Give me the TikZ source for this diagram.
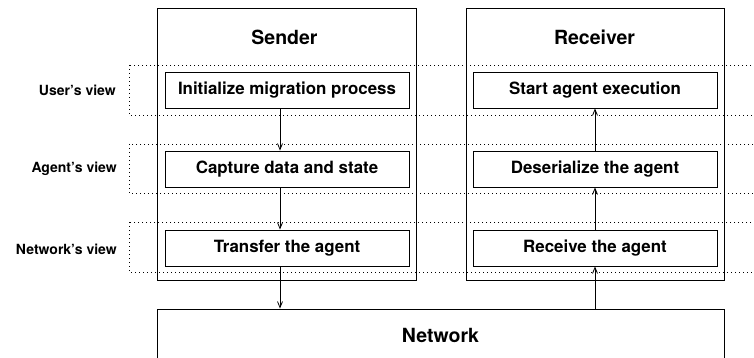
\documentclass[tikz,border=0pt]{standalone}
\usepackage{fontspec}
\setmainfont{TeX Gyre Heros}
\usetikzlibrary{arrows.meta}
\begin{document}
\begin{tikzpicture}[x=1pt,y=-1pt,
  outer/.style={draw=black,line width=0.9pt,rectangle,inner sep=0pt},
  inner/.style={draw=black,line width=0.9pt,fill=white,rectangle,inner sep=0pt,minimum width=244pt,minimum height=36pt,font=\fontsize{16.9}{18}\selectfont\bfseries},
  title/.style={font=\fontsize{19.5}{22}\selectfont\bfseries},
  viewlabel/.style={anchor=east,inner sep=0pt,font=\fontsize{14}{16}\selectfont\bfseries},
  band/.style={line width=0.7pt,dash pattern=on 0.8pt off 3.2pt},
  arr/.style={line width=0.8pt,-{Straight Barb[length=6pt,width=5pt]}}]
\useasboundingbox (0,0) rectangle (754,358);
\clip (0,0) rectangle (754,358);
% view bands
\draw[band] (129,65) rectangle (770,115);
\draw[band] (129,144) rectangle (770,193);
\draw[band] (129,222) rectangle (770,272);
\node[viewlabel] (uv) at (116,90) {User’s view};
\node[viewlabel] (av) at (117,169) {Agent’s view};
\node[viewlabel] (nv) at (117,249) {Network’s view};
% outer boxes
\node[outer,minimum width=259pt,minimum height=272pt] (sender) at (286.5,144) {};
\node[outer,minimum width=258pt,minimum height=272pt] (receiver) at (595,144) {};
\node[title] (st) at (284.5,37) {Sender};
\node[title] (rt) at (594.5,37) {Receiver};
% network
\node[outer,minimum width=567pt,minimum height=60pt] (net) at (440.5,339) {};
\node[title] (nt) at (440.5,335) {Network};
% inner boxes
\node[inner] (init) at (287,90) {Initialize migration process};
\node[inner] (cap) at (287,169) {Capture data and state};
\node[inner] (trans) at (287,248) {Transfer the agent};
\node[inner] (start) at (595,90) {Start agent execution};
\node[inner] (deser) at (595,169) {Deserialize the agent};
\node[inner] (recv) at (595,248) {Receive the agent};
% arrows
\draw[arr] ([xshift=-7pt]init.south) -- ([xshift=-7pt]cap.north);
\draw[arr] ([xshift=-7pt]cap.south) -- ([xshift=-7pt]trans.north);
\draw[arr] ([xshift=-7pt]trans.south) -- ([xshift=-7pt]trans.south |- net.north);
\draw[arr] (recv.south |- net.north) -- (recv.south);
\draw[arr] (recv.north) -- (deser.south);
\draw[arr] (deser.north) -- (start.south);
\end{tikzpicture}
\end{document}
